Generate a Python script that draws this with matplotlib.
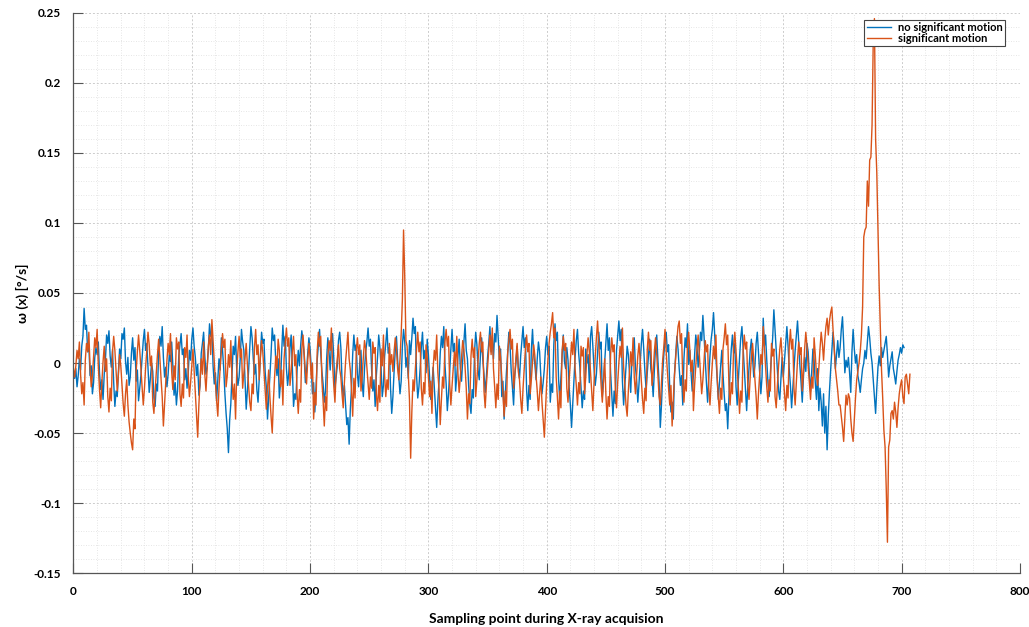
import numpy as np
import matplotlib
matplotlib.use("Agg")
import matplotlib.pyplot as plt
from matplotlib.ticker import MultipleLocator, FuncFormatter

plt.rcParams['font.family'] = ['Lato', 'DejaVu Sans']

# angular velocity per sampling point, in thousandths of deg/s
no_motion = [
    -6, -11, -4, -17, -9, 3, -5, 12, 19, 39, 24, 27, 8, 13, -9, -2, -22, -14, 4, 11,
    6, 15, -7, -19, -12, -26, -8, 2, 20, 14, 23, 5, -3, 9, -14, -31, -20, -24, -6, 10,
    3, 21, 17, 25, 1, -8, 4, -16, -10, 7,
    18, 2, 11, -13, -5, -27, -18, -9, 3, 16, 24, 9, 14, -4, -21, -11, 0, -6, -25, -31,
    -15, -20, 8, 19, 12, 26, 4, -10, -3, -17, -8, 6, 1, 15, -2, -23, -14, -30, -19, 5,
    13, 21, 6, 10, -12, -4, -18, -7, 9, 2,
    17, 25, 12, 4, -9, -1, -23, -16, 7, 14, 22, 5, -8, -3, 10, 28, 19, 23, -2, -15,
    -7, -27, -12, 3, -5, 18, 9, -4, -22, -36, -47, -64, -41, -29, -8, 12, 6, 19, -5, -16,
    -10, 4, 24, 15, 9, -13, -33, -20, -6, 11,
    26, 18, 3, -8, -1, -19, -28, -12, 5, 22, 14, 17, -6, -17, -40, -25, -11, 6, 25, 16,
    20, 1, -9, 3, -25, -14, 8, 27, 12, 19, -4, -16, -7, 11, 20, -3, -31, -22, -26, -5,
    9, -2, 12, 23, 16, 5, -14, -6, 7, 18,
    10, -4, -22, -14, -35, -18, 2, 13, 24, 7, -6, -15, -28, -20, 3, 18, 8, -5, 14, 21,
    4, -18, -10, -2, 16, 22, 11, -12, -25, -16, -30, -44, -39, -58, -33, -18, 6, 20, 9, 13,
    -8, -17, 1, 9, -14, -24, -4, 8, 15, 25,
    12, 17, -5, -20, -12, -31, -9, 4, 20, 11, -3, -24, -16, 5, 14, 25, 7, 11, -18, -36,
    -24, -6, 9, 19, 2, -10, -22, -13, 12, 24, 15, -3, 4, -11, 16, 6, 18, 32, 21, 26,
    -9, -25, -17, -4, 11, 22, 3, 9, -7, 17,
    6, -10, -26, -16, -3, -18, -32, -46, -27, -13, 7, 19, 11, 26, -1, -15, -34, -22, -6, 10,
    24, 8, 14, -20, -9, 5, 17, -4, -13, 2, 15, 28, 9, 3, -16, -29, -36, -19, -25, 8,
    22, 13, -5, -12, 6, 18, 2, -8, -21, -10,
    4, 14, 26, 8, 19, 3, 21, 15, 34, 18, 2, 10, -24, -13, -40, -22, -6, 7, 22, 13,
    -6, -17, -30, -9, 0, 12, -3, -11, 5, 16, 26, 11, 18, -19, -34, -16, -26, 9, 24, 6,
    -1, -12, 3, 15, 8, -9, -22, -14, -4, 11,
    19, 6, 12, -28, -15, -21, 13, 28, 16, 22, -11, -26, -10, 5, 20, 1, -4, 11, 2, -18,
    -30, -46, -29, -12, 4, 16, 24, 7, -3, -17, -32, -20, -26, 10, 0, 6, -14, 19, 26, 12,
    -4, -16, -8, 7, 22, 10, 15, -24, -13, 1,
    14, 28, 9, 18, -7, -22, -38, -20, -29, 9, 20, 30, 16, 24, -13, -30, -17, -3, 12, 6,
    -8, -21, 2, 8, 18, -3, -12, -28, -15, 0, 14, 24, 10, -6, -19, -7, 5, 17, -4, -10,
    -24, -5, 12, 20, 2, -14, -46, -30, -9, 6,
    16, 22, 8, 13, -20, -35, -28, -40, -8, 6, 19, 10, -4, -16, -9, -30, 3, 18, 11, 28,
    -1, 9, -7, -20, -9, 6, 20, 12, -3, 8, 22, 16, 34, 19, 2, -14, -28, -10, 5, 17,
    24, 36, 20, 4, -10, -26, -14, -3, 9, -8,
    -22, -34, -29, -47, -25, -6, 10, 20, 7, 14, -17, -30, -12, 4, 18, 26, 11, -4, -18, -34,
    -16, -3, 9, 17, 3, -10, -2, 14, 22, 8, -7, -22, -10, 32, 12, 20, 2, -14, -24, -8,
    6, 18, 38, 24, 9, -6, -20, -26, -11, 4,
    -10, 2, 14, 26, 12, -4, -16, -32, -18, -5, 9, 20, 30, 15, -2, -14, -28, -10, 4, -6,
    14, 8, -8, -20, -6, 10, 2, -14, -26, -4, -34, -18, -28, -45, -22, -50, -31, -62, -38, -20,
    -5, 8, 22, 12, -4, 6, 16, 4, 11, 24,
    33, 14, -7, 2, -3, 4, -7, -21, 8, 24, 10, 0, 6, -9, -14, -21, -12, -4, 0, 9,
    3, 15, 26, 18, 7, 0, -12, -24, -36, -18, -3, 5, -2, 11, 4, 9, 14, 19, 6, -10,
    -2, 3, 8, -4, -9, -15, -6, 2, 6, 11,
    7, 13, 11,
]

with_motion = [
    -4, -10, -2, 9, 3, 15, -8, -22, -14, -30, 2, 14, 8, 22, -3, -17, -9, 5, 18, 11,
    24, -2, -19, -32, -14, 1, 12, -6, 3, -24, -35, -18, -27, 8, 19, 9, -6, -20, -8, 6,
    -2, -15, -29, -38, -22, -12, -30, -42, -50, -57,
    -62, -40, -47, -6, 8, 20, 9, -4, -16, -30, -18, -3, 10, 22, 13, -2, 5, -28, -36, -20,
    -7, 6, 17, 4, -11, -24, -45, -29, -12, 2, 14, 6, 21, -6, -19, -2, -12, 18, 10, 15,
    -22, -31, -15, -25, 11, 4, 20, -9, -24, -14,
    -2, 10, -6, -22, -38, -53, -30, -12, 3, -8, 15, -8, -20, -4, 12, 20, 6, 31, 16, 1,
    -14, -27, -38, -18, -3, 9, 21, 11, 17, -17, -9, 6, -3, 16, -12, -26, -15, -40, -6, 8,
    19, 4, 10, -18, -7, 5, 14, -1, -16, -28,
    -34, -15, -22, 11, 24, 6, 13, -12, 4, 16, 8, -6, -20, -33, -18, -5, -24, -38, -50, -27,
    -10, 5, -4, 17, 9, -17, -5, -30, 3, 15, 25, 12, 18, -16, -7, 8, 19, -2, 6, -22,
    -36, -19, -28, 10, 20, 7, -6, -15, 2, 14,
    4, -11, 0, -40, -21, -30, 8, 22, 12, 19, -13, -27, -45, -24, -34, 5, 16, 9, 25, -1,
    -16, -28, -6, 3, 13, -4, -10, -22, -32, -14, 1, 12, 22, 3, -5, -19, -38, -11, -25, 8,
    18, 6, 13, -20, -10, 4, 16, 10, -3, -14,
    -26, -10, -18, 15, 7, 11, -22, -34, -16, -28, 10, -2, 20, -9, -24, -12, -19, 14, -1, 6,
    -6, 8, 18, 10, -4, -12, 3, 21, 45, 95, 62, 16, 12, -8, -26, -68, -35, -12, -20, -4,
    10, 22, 8, 15, -18, -30, -14, -22, 13, 4,
    -10, -24, -13, -36, -4, 9, 2, 20, -7, -19, -44, -26, -10, -18, 15, 24, 12, 19, -15, -30,
    -16, -4, 8, -2, 19, -8, -21, -10, 4, 16, 10, -3, -18, -40, -22, -29, 5, 17, 4, 11,
    -24, -12, 2, 14, 22, 8, 15, -20, -32, -16,
    -3, 9, 20, 6, 25, -4, -17, -32, -15, -26, 12, 4, -10, -22, -38, -20, -31, 7, 16, 24,
    10, 17, -18, -9, 4, 14, -6, -12, -26, -36, -18, -4, 10, 20, 8, 14, -22, -12, 1, 13,
    5, -9, -20, -34, -22, -10, -28, -40, -53, -33,
    -14, 2, 14, 22, 28, 36, 18, 25, -10, -24, -40, -20, -32, 8, 19, 9, 14, -18, -28, -12,
    2, 15, 6, 24, -4, -16, -30, -14, -22, 12, 5, 11, -22, -10, 6, 18, 8, -6, -20, -34,
    -14, 4, 18, 30, 14, -2, -16, -28, -12, 3,
    -22, -40, -24, -31, 6, 18, 8, 13, -19, -32, -14, 0, 12, 4, 25, -3, -15, -30, -38, -20,
    -6, 8, -2, 18, -10, -22, -9, 5, 14, 2, -13, -26, -36, -18, -27, 10, 22, 9, 16, -16,
    -6, 8, 18, 6, -9, -24, -30, -14, 2, 12,
    24, 8, -6, -18, -30, -16, -45, -26, -9, 4, 16, 26, 30, 14, 21, -13, -28, -12, -20, 14,
    22, 9, -6, 2, -34, -16, -2, 10, 20, 6, -8, -22, -12, 2, 16, 8, 13, -18, -30, -14,
    0, 12, 3, 20, -9, -24, -36, -18, -26, 10,
    18, 28, 13, 20, -15, -30, -14, -22, 12, 22, 9, -5, -18, -36, -20, -28, 8, 20, 10, 15,
    -16, -26, -10, 4, 14, 2, -12, -24, -40, -22, -8, 6, -1, 26, 12, -3, -17, -28, -12, -20,
    14, 5, 10, -24, -32, -16, -2, 10, 18, 4,
    -10, -22, -34, -16, -25, 12, 24, 10, 17, -18, -30, -14, 2, 15, 6, 11, -20, -6, 10, 22,
    12, -2, -14, -26, -10, -18, 18, 6, -8, -16, -4, 10, 22, 14, 2, 16, 26, 32, 20, 30,
    36, 40, 24, 10, -4, -12, -20, -30, -30, -38,
    -46, -56, -40, -23, -30, -22, -25, -40, -50, -56, -40, -25, -12, -6, 0, 8, 20, 40, 90, 95,
    97, 130, 112, 145, 147, 170, 230, 246, 160, 136, 95, 55, 25, -5, -25, -48, -60, -90, -128, -60,
    -55, -36, -34, -40, -28, -35, -46, -32, -22, -16,
    -12, -24, -29, -10, -8, -15, -22, -8,
]

labels = ['no significant motion', 'significant motion']
colors = ['#0072BD', '#D95319']

y_blue = np.array(no_motion) / 1000.0
y_orange = np.array(with_motion) / 1000.0
x_blue = np.arange(len(y_blue))
x_orange = np.arange(len(y_orange))

fig = plt.figure(figsize=(10.29, 6.27), dpi=100)
ax = fig.add_axes([0.0714, 0.0861, 0.9198, 0.8932])

ax.plot(x_blue, y_blue, color=colors[0], lw=1.0, label=labels[0])
ax.plot(x_orange, y_orange, color=colors[1], lw=1.0, label=labels[1])

ax.set_xlim(0, 800)
ax.set_ylim(-0.15, 0.25)
ax.xaxis.set_major_locator(MultipleLocator(100))
ax.xaxis.set_minor_locator(MultipleLocator(20))
ax.yaxis.set_major_locator(MultipleLocator(0.05))
ax.yaxis.set_minor_locator(MultipleLocator(0.01))
ax.yaxis.set_major_formatter(FuncFormatter(lambda v, p: '%g' % round(v, 4)))

ax.grid(which='major', color='#cccccc', lw=0.7, ls=(0, (2, 2)))
ax.grid(which='minor', color='#dedede', lw=0.6, ls=(0, (1, 2)))
ax.set_axisbelow(True)

for s in ['top', 'right']:
    ax.spines[s].set_visible(False)
for s in ['left', 'bottom']:
    ax.spines[s].set_color('#555555')
    ax.spines[s].set_linewidth(0.9)

ax.tick_params(which='major', direction='in', length=7, width=0.8, color='#555555',
               labelsize=8.5, pad=9)
ax.tick_params(which='minor', length=0)
for t in ax.get_xticklabels() + ax.get_yticklabels():
    t.set_fontweight('bold')

ax.set_xlabel('Sampling point during X-ray acquision', fontsize=10, fontweight='bold', labelpad=12)
ax.set_ylabel('ω (x) [°/s]', fontsize=10, fontweight='bold', labelpad=3)

leg = ax.legend(loc='upper right', bbox_to_anchor=(0.984, 0.988), borderaxespad=0,
                fancybox=False, framealpha=1, edgecolor='#444444',
                prop={'weight': 'bold', 'size': 8}, handlelength=2.2,
                labelspacing=0.0, borderpad=0.2, handletextpad=0.6)
leg.get_frame().set_linewidth(0.8)

fig.savefig('out.png', dpi=100)
